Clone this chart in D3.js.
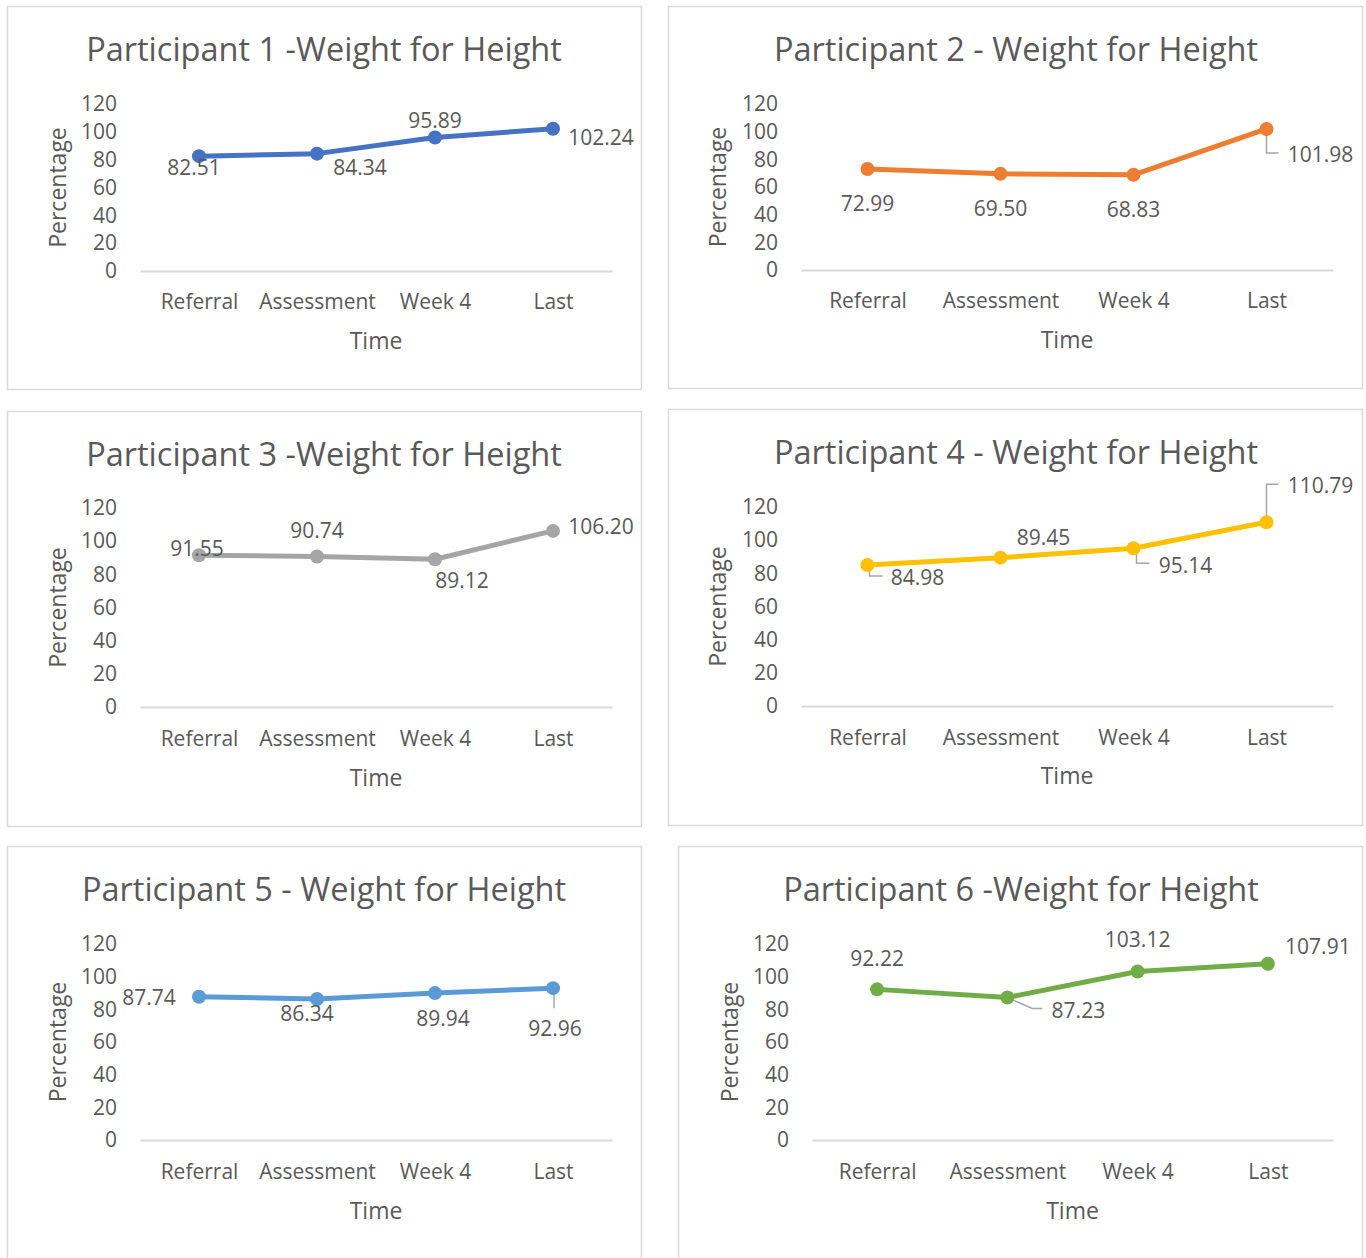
<!DOCTYPE html>
<html>
<head>
<meta charset="utf-8">
<script src="https://cdn.jsdelivr.net/npm/d3@7"></script>
<style>
  body { margin: 0; background: #fff; }
  text { font-family: "Open Sans", sans-serif; fill: #595959; }
</style>
</head>
<body>
<svg id="charts"></svg>
<script>
// Data
const categories = ["Referral", "Assessment", "Week 4", "Last"];
const participant1 = [82.51, 84.34, 95.89, 102.24];
const participant2 = [72.99, 69.50, 68.83, 101.98];
const participant3 = [91.55, 90.74, 89.12, 106.20];
const participant4 = [84.98, 89.45, 95.14, 110.79];
const participant5 = [87.74, 86.34, 89.94, 92.96];
const participant6 = [92.22, 87.23, 103.12, 107.91];
const yTicks = [0, 20, 40, 60, 80, 100, 120];
const titles = [
  "Participant 1 -Weight for Height",
  "Participant 2 - Weight for Height",
  "Participant 3 -Weight for Height",
  "Participant 4 - Weight for Height",
  "Participant 5 - Weight for Height",
  "Participant 6 -Weight for Height"
];
const seriesColors = ["#4472C4", "#ED7D31", "#A5A5A5", "#FFC000", "#5B9BD5", "#70AD47"];
const allSeries = [participant1, participant2, participant3, participant4, participant5, participant6];

/*
 * Layout of each panel (pixels). labels = offset of each data label from its point,
 * leaders = optional callout line (points relative to the marker)
 */
const layout = [
  { box: [7, 6, 634, 383], x: [140, 612], y: [271, 104], titleX: 324, titleY: 50, yTitleX: 58, catY: 302, timeY: 341,
    labels: [[-5, 11], [43, 14], [0, -17], [48, 9]], leaders: [null, null, null, null] },
  { box: [668, 6, 694, 382], x: [801, 1333], y: [270, 104], titleX: 1016, titleY: 50, yTitleX: 718, catY: 301, timeY: 340,
    labels: [[0, 35], [0, 35], [0, 35], [54, 26]], leaders: [null, null, null, [[0, 6], [0, 24], [12, 24]]] },
  { box: [7, 411, 634, 415], x: [140, 612], y: [707, 508], titleX: 324, titleY: 455, yTitleX: 58, catY: 739, timeY: 778,
    labels: [[-2, -7], [0, -26], [27, 21], [48, -4]], leaders: [null, null, null, null] },
  { box: [668, 409, 694, 416], x: [801, 1333], y: [706, 507], titleX: 1016, titleY: 453, yTitleX: 718, catY: 738, timeY: 776,
    labels: [[50, 13], [43, -20], [52, 17], [54, -37]],
    leaders: [[[2, 5], [2, 11], [15, 11]], null, [[3, 5], [3, 15], [16, 15]], [[0, -6], [0, -38], [12, -38]]] },
  { box: [7, 846, 634, 420], x: [140, 612], y: [1140, 944], titleX: 324, titleY: 890, yTitleX: 58, catY: 1172, timeY: 1211,
    labels: [[-50, 1], [-10, 15], [8, 26], [2, 40]], leaders: [null, null, null, [[1, 5], [1, 20]]] },
  { box: [678, 846, 684, 420], x: [812, 1333], y: [1140, 944], titleX: 1021, titleY: 890, yTitleX: 730, catY: 1172, timeY: 1211,
    labels: [[0, -31], [71, 13], [0, -32], [50, -17]], leaders: [null, [[2, 1], [25, 11], [35, 11]], null, null] }
];

const svg = d3.select("#charts")
    .attr("width", 1366)
    .attr("height", 1258);

function panel(i) {
  const L = layout[i];
  const values = allSeries[i];
  const color = seriesColors[i];
  const g = svg.append("g");

  // Chart border
  g.append("rect")
      .attr("x", L.box[0] + 0.5)
      .attr("y", L.box[1] + 0.5)
      .attr("width", L.box[2])
      .attr("height", L.box[3])
      .attr("fill", "#fff")
      .attr("stroke", "#d9d9d9")
      .attr("stroke-width", 1.5);

  const x = d3.scalePoint()
      .domain(categories)
      .range(L.x)
      .padding(0.5);

  const y = d3.scaleLinear()
      .domain([0, 120])
      .range(L.y);

  // Title
  g.append("text")
      .attr("x", L.titleX)
      .attr("y", L.titleY)
      .attr("text-anchor", "middle")
      .attr("dy", "0.35em")
      .style("font-size", "32.5px")
      .text(titles[i]);

  // Y axis (labels only)
  g.append("g")
      .attr("transform", `translate(${L.x[0]},0)`)
      .call(d3.axisLeft(y).tickValues(yTicks).tickSize(0).tickPadding(23))
      .call(a => a.select(".domain").remove())
      .call(a => a.selectAll("text")
          .style("font-size", "21px")
          .style("font-family", "'Open Sans', sans-serif")
          .attr("fill", "#595959"));

  // X axis
  g.append("g")
      .attr("transform", `translate(0,${L.y[0]})`)
      .call(d3.axisBottom(x).tickSize(0))
      .call(a => a.select(".domain")
          .attr("stroke", "#d9d9d9")
          .attr("stroke-width", 2))
      .call(a => a.selectAll("text")
          .attr("y", L.catY - L.y[0])
          .attr("dy", "0.35em")
          .style("font-size", "21px")
          .style("font-family", "'Open Sans', sans-serif")
          .attr("fill", "#595959"));

  // Axis titles
  g.append("text")
      .attr("transform", `translate(${L.yTitleX},${(L.y[0] + L.y[1]) / 2}) rotate(-90)`)
      .attr("text-anchor", "middle")
      .attr("dy", "0.35em")
      .style("font-size", "23px")
      .text("Percentage");

  g.append("text")
      .attr("x", (L.x[0] + L.x[1]) / 2)
      .attr("y", L.timeY)
      .attr("text-anchor", "middle")
      .attr("dy", "0.35em")
      .style("font-size", "23px")
      .text("Time");

  const line = d3.line()
      .x((d, k) => x(categories[k]))
      .y(d => y(d));

  g.append("path")
      .datum(values)
      .attr("fill", "none")
      .attr("stroke", color)
      .attr("stroke-width", 5)
      .attr("stroke-linejoin", "round")
      .attr("stroke-linecap", "round")
      .attr("d", line);

  // Leader lines for callout labels
  values.forEach((v, k) => {
    const pts = L.leaders[k];
    if (!pts) return;
    const px = x(categories[k]), py = y(v);
    g.append("polyline")
        .attr("points", pts.map(p => `${px + p[0]},${py + p[1]}`).join(" "))
        .attr("fill", "none")
        .attr("stroke", "#a6a6a6")
        .attr("stroke-width", 1.5);
  });

  g.selectAll("circle")
      .data(values)
      .join("circle")
      .attr("cx", (d, k) => x(categories[k]))
      .attr("cy", d => y(d))
      .attr("r", 7)
      .attr("fill", color);

  g.selectAll(".lbl")
      .data(values)
      .join("text")
      .attr("class", "lbl")
      .attr("x", (d, k) => x(categories[k]) + L.labels[k][0])
      .attr("y", (d, k) => y(d) + L.labels[k][1])
      .attr("text-anchor", "middle")
      .attr("dy", "0.35em")
      .style("font-size", "21px")
      .text(d => d.toFixed(2));
}

d3.range(6).forEach(panel);
</script>
</body>
</html>
